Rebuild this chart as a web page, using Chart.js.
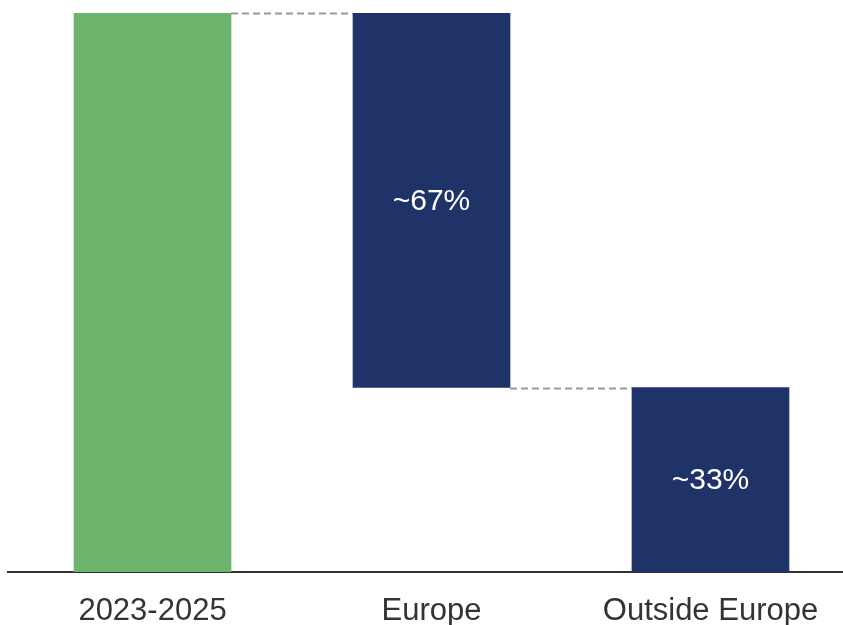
<!DOCTYPE html>
<html>
<head>
<meta charset="utf-8">
<script src="https://cdn.jsdelivr.net/npm/chart.js@4/dist/chart.umd.min.js"></script>
<style>
  html, body { margin: 0; padding: 0; background: #ffffff; }
  canvas { display: block; }
</style>
</head>
<body>
<canvas id="chart" width="843" height="625"></canvas>
<script>
// Waterfall: total for the period split into its two regional shares (%)
const categories = ['2023-2025', 'Europe', 'Outside Europe'];
const totalShare = 100;
const regionShares = [67, 33];
const shareLabels = ['', '~67%', '~33%'];

const GREEN = '#6db56d';
const NAVY = '#1f3369';
const TICK_FONT_SIZE = 31;
const TICK_PADDING = 24;
const AXIS_HEIGHT = 53;

// Floating ranges: the total bar, then each region stepping down from the previous level
const ranges = [[0, totalShare]];
let level = totalShare;
regionShares.forEach(v => {
  ranges.push([level - v, level]);
  level -= v;
});

const points = ranges.map((r, i) => ({ x: i, y: r }));

// Dashed connectors between the top/bottom of consecutive bars
const connectorPlugin = {
  id: 'connectors',
  afterDatasetsDraw(chart) {
    const { ctx } = chart;
    const meta = chart.getDatasetMeta(0);
    const yScale = chart.scales.y;
    ctx.save();
    ctx.strokeStyle = '#999999';
    ctx.lineWidth = 2;
    ctx.setLineDash([7, 4]);
    for (let i = 0; i < ranges.length - 1; i++) {
      const a = meta.data[i];
      const b = meta.data[i + 1];
      const lvl = i === 0 ? ranges[0][1] : ranges[i][0];
      const y = Math.round(yScale.getPixelForValue(lvl)) + 0.5;
      ctx.beginPath();
      ctx.moveTo(a.x + a.width / 2, y);
      ctx.lineTo(b.x - b.width / 2, y);
      ctx.stroke();
    }
    ctx.restore();
  }
};

// Share labels written inside the regional bars
const labelPlugin = {
  id: 'shareLabels',
  afterDatasetsDraw(chart) {
    const { ctx } = chart;
    const meta = chart.getDatasetMeta(0);
    ctx.save();
    ctx.fillStyle = '#ffffff';
    ctx.font = '30px "Liberation Sans", Arial, sans-serif';
    ctx.textAlign = 'center';
    ctx.textBaseline = 'middle';
    meta.data.forEach((el, i) => {
      if (!shareLabels[i]) return;
      const yMid = (el.y + el.base) / 2;
      ctx.fillText(shareLabels[i], el.x, yMid + 1);
    });
    ctx.restore();
  }
};

new Chart(document.getElementById('chart'), {
  type: 'bar',
  data: {
    datasets: [{
      data: points,
      backgroundColor: [GREEN, NAVY, NAVY],
      borderWidth: 0,
      barThickness: 157
    }]
  },
  options: {
    responsive: false,
    animation: false,
    layout: { padding: { left: 8, right: 0, top: 13, bottom: 0 } },
    plugins: {
      legend: { display: false },
      tooltip: { enabled: false }
    },
    scales: {
      x: {
        type: 'linear',
        offset: false,
        min: -0.518,
        max: 2.475,
        grid: { display: false, drawTicks: false },
        border: { display: true, color: '#333333', width: 2 },
        afterBuildTicks(axis) {
          axis.ticks = categories.map((_, i) => ({ value: i }));
        },
        afterFit(axis) {
          axis.height = AXIS_HEIGHT;
        },
        ticks: {
          autoSkip: false,
          maxRotation: 0,
          padding: TICK_PADDING,
          color: '#333333',
          font: { family: '"Liberation Sans", Arial, sans-serif', size: TICK_FONT_SIZE, lineHeight: 1 },
          callback: (v) => categories[v]
        }
      },
      y: {
        display: false,
        min: 0,
        max: 100
      }
    }
  },
  plugins: [connectorPlugin, labelPlugin]
});
</script>
</body>
</html>
